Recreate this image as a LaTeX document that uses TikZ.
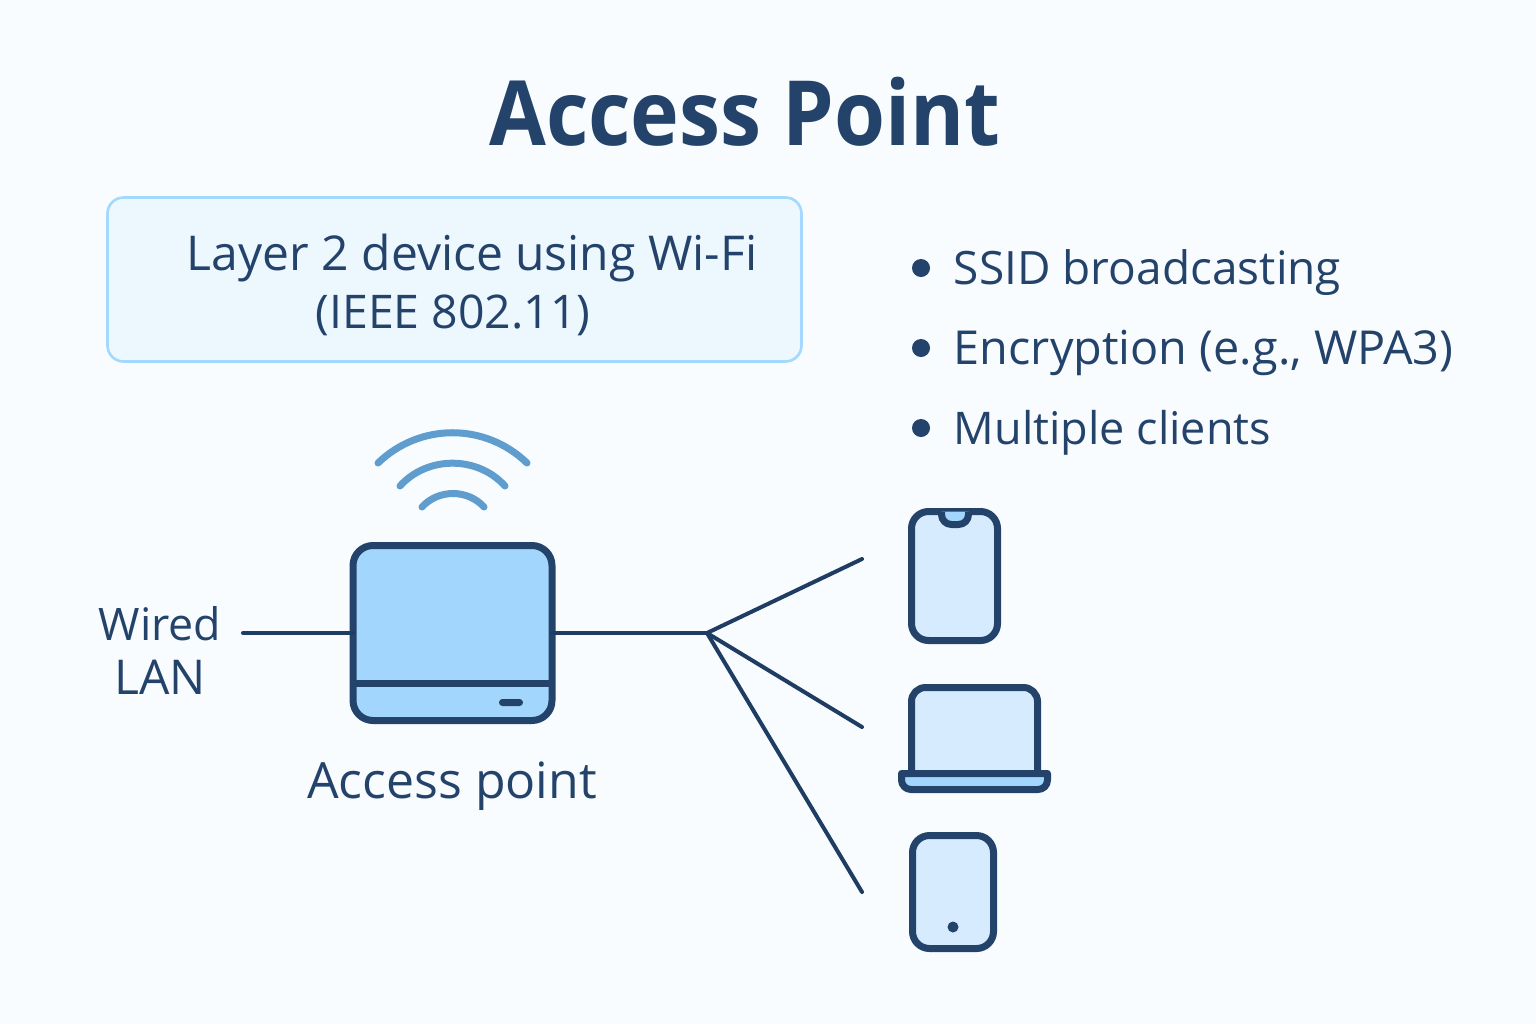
\documentclass[tikz,border=0pt]{standalone}
\usepackage{fontspec}
\setmainfont{Open Sans}
\newfontfamily\titlefont[FakeStretch=0.916]{Open Sans}
\usetikzlibrary{positioning}
\definecolor{inkblue}{HTML}{24436B}
\definecolor{wireblue}{HTML}{1F3C62}
\definecolor{apblue}{HTML}{A3D6FC}
\definecolor{paleblue}{HTML}{D6ECFE}
\definecolor{boxblue}{HTML}{EDF7FE}
\definecolor{boxline}{HTML}{A3D8FF}
\definecolor{wifiblue}{HTML}{5F9DCF}
\definecolor{pagebg}{HTML}{F9FCFF}

\begin{document}
\begin{tikzpicture}[
         x=0.5pt, y=-0.5pt,
         txt/.style = {text=inkblue,font=\fontsize{#1}{28}\selectfont,inner sep=0pt},
         txt/.default = 24,
         wire/.style = {draw=wireblue,line width=2pt,line cap=round},
         wifi/.style = {draw=wifiblue,line width=3.5pt,line cap=round},
         devline/.style = {draw=inkblue,line width=3.5pt,line join=round},
         bullet/.style = {circle,fill=inkblue,minimum size=9pt,inner sep=0pt},
         apbox/.style = {devline,fill=apblue,rounded corners=10pt,minimum width=99.5pt,
            minimum height=87.5pt,inner sep=0pt,outer sep=0pt}
]
      \useasboundingbox[fill=pagebg] (0,0) rectangle (1536,1024);

      \node[txt,font=\fontsize{45}{50}\titlefont\bfseries\selectfont,anchor=base] (title) at (745,145) {Access Point};

      % info box
      \node[draw=boxline,fill=boxblue,line width=1.3pt,rounded corners=8pt,minimum width=347pt,
         minimum height=82pt,inner sep=0pt] (infobox) at (454.5,279.5) {};
      \node[txt,anchor=base] (info1) at (472,270) {Layer 2 device using Wi-Fi};
      \node[txt=23.2,anchor=base] (info2) at (453,328) {(IEEE 802.11)};

      % feature list
      \node[bullet] (b1) at (921,268) {};
      \node[bullet] (b2) at (921,348) {};
      \node[bullet] (b3) at (921,428) {};
      \node[txt=23,anchor=base west] (f1) at (953.5,284) {SSID broadcasting};
      \node[txt=23.4,anchor=base west] (f2) at (953.5,364) {Encryption (e.g., WPA3)};
      \node[txt=22.5,anchor=base west] (f3) at (953.5,444) {Multiple clients};

      % access point
      \node[apbox] (ap) at (452.5,633) {};
      \draw[devline] (ap.west |- 0,683) -- (ap.east |- 0,683);
      \draw[fill=inkblue,draw=none,rounded corners=1.7pt] (499,699) rectangle (523,706);
      \node[txt=25,anchor=base] (aplabel) at (452,798) {Access point};

      % wifi waves
      \draw[wifi] (378,463) to[bend left=44] (527,463);
      \draw[wifi] (400,486) to[bend left=48] (505,486);
      \draw[wifi] (422,507) to[bend left=48] (484,507);

      % wired side
      \node[txt=22.4,anchor=base] (wired) at (160,640) {Wired};
      \node[txt,anchor=base] (lan) at (160,694) {LAN};
      \coordinate (wireend) at (243,633);
      \draw[wire] (wireend) -- (ap.west);

      % fan out to the clients
      \coordinate (hub) at (707,633);
      \coordinate (c1) at (862,559);
      \coordinate (c2) at (862,727);
      \coordinate (c3) at (862,892);
      \draw[wire] (ap.east) -- (hub);
      \draw[wire] (hub) -- (c1);
      \draw[wire] (hub) -- (c2);
      \draw[wire] (hub) -- (c3);

      % phone
      \draw[devline,fill=paleblue,rounded corners=8.5pt] (911.5,511.5) rectangle (997.5,640.5);
      \draw[devline,fill=apblue,rounded corners=5pt] (941.5,511.5) -- (941.5,524.5) -- (968.5,524.5) -- (968.5,511.5);

      % laptop
      \draw[devline,fill=paleblue,rounded corners=7pt] (911.5,774) -- (911.5,687.5) -- (1037.5,687.5) -- (1037.5,774);
      \draw[devline,fill=apblue] (901.5,773.5) -- (1047.5,773.5) -- (1047.5,780)
         arc[start angle=0,end angle=90,radius=9.5] -- (911,789.5)
         arc[start angle=90,end angle=180,radius=9.5] -- cycle;

      % tablet
      \draw[devline,fill=paleblue,rounded corners=8.5pt] (912.5,835.5) rectangle (993.5,948.5);
      \node[circle,fill=inkblue,minimum size=5.5pt,inner sep=0pt] (tabdot) at (953,927) {};
\end{tikzpicture}
\end{document}
